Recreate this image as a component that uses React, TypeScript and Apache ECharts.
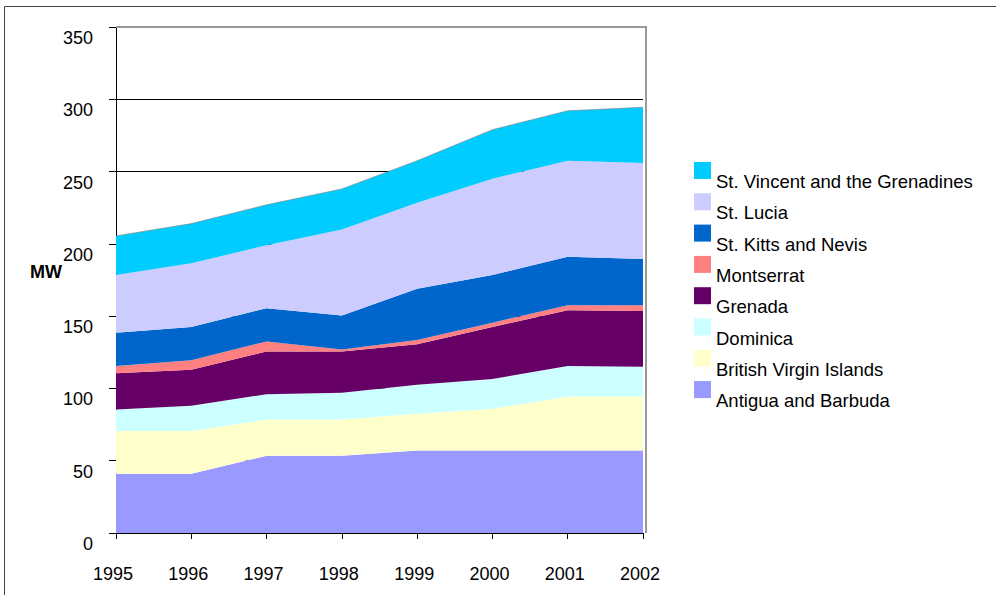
import React, { useEffect, useRef } from "react";
import * as echarts from "echarts";

const years = ["1995", "1996", "1997", "1998", "1999", "2000", "2001", "2002"];
const yTicks = [0, 50, 100, 150, 200, 250, 300, 350];

const antigua = [41, 41, 53.5, 53.5, 57, 57, 57, 57];
const bvi = [29.5, 29.5, 25, 25, 25.5, 29, 37.5, 37.5];
const dominica = [15, 17.5, 17.5, 18.5, 20, 20.5, 21, 20.5];
const grenada = [25, 25, 29.5, 28.5, 28, 36, 38.5, 38.5];
const montserrat = [5, 6.5, 7, 1.5, 3, 3, 3.5, 4];
const stKitts = [23, 23, 23, 23.5, 35.5, 33, 33.5, 32];
const stLucia = [40, 44, 43.5, 59.5, 59.5, 66.5, 66.5, 66.5];
const stVincent = [27, 27.5, 28, 28, 29, 34, 34.5, 38.5];

const seriesNames = [
  "Antigua and Barbuda",
  "British Virgin Islands",
  "Dominica",
  "Grenada",
  "Montserrat",
  "St. Kitts and Nevis",
  "St. Lucia",
  "St. Vincent and the Grenadines",
];
const seriesData = [antigua, bvi, dominica, grenada, montserrat, stKitts, stLucia, stVincent];
const seriesColors = ["#9999FF", "#FFFFCC", "#CCFFFF", "#660066", "#FF8080", "#0066CC", "#CCCCFF", "#00CCFF"];

const FONT = "'Liberation Sans', Arial, sans-serif";

export default function App() {
  const ref = useRef<HTMLDivElement>(null);
  useEffect(() => {
    document.body.style.margin = "0";
    if (!ref.current) return;
    const chart = echarts.init(ref.current, null, { renderer: "svg" });
    const series = seriesNames.map((name, i) => ({
      name,
      type: "line",
      stack: "total",
      data: seriesData[i],
      symbol: "none",
      showSymbol: false,
      color: seriesColors[i],
      lineStyle: i === seriesNames.length - 1 ? { width: 1, color: "rgba(128,128,128,0.6)" } : { width: 0 },
      areaStyle: { color: seriesColors[i], opacity: 1 },
      emphasis: { disabled: true },
    }));
    chart.setOption({
      animation: false,
      textStyle: { fontFamily: FONT },
      grid: { left: 116, right: 353, top: 27, bottom: 62 },
      xAxis: {
        type: "category",
        data: years,
        boundaryGap: false,
        axisLine: { lineStyle: { color: "#000", width: 1 } },
        axisTick: { show: true, length: 6, inside: false, lineStyle: { color: "#000" }, interval: 0 },
        axisLabel: {
          color: "#000",
          fontSize: 18,
          fontFamily: FONT,
          margin: 32,
          interval: 0,
          padding: [0, 6, 0, 0],
        },
        splitLine: { show: false },
      },
      yAxis: {
        type: "value",
        min: 0,
        max: 350,
        interval: 50,
        axisLine: { show: true, lineStyle: { color: "#000", width: 1 } },
        axisTick: { show: true, length: 7, lineStyle: { color: "#000" } },
        axisLabel: {
          color: "#000",
          fontSize: 18,
          fontFamily: FONT,
          margin: 23,
          verticalAlign: "top",
          padding: [2, 0, 0, 0],
          formatter: (v: number) => (yTicks.includes(v) ? String(v) : ""),
        },
        splitLine: { show: true, showMaxLine: false, lineStyle: { color: "#000", width: 1 } },
      },
      legend: {
        show: true,
        orient: "vertical",
        left: 689,
        top: 143.5,
        icon: "rect",
        itemWidth: 17,
        itemHeight: 17,
        itemGap: -12.7,
        data: [...seriesNames].reverse(),
        formatter: (name: string) => "\n" + name,
        textStyle: {
          color: "#000",
          fontSize: 18.5,
          fontFamily: FONT,
          lineHeight: 22,
        },
        selectedMode: false,
      },
      graphic: [
        {
          type: "rect",
          shape: { x: 4.5, y: 6.5, width: 1000, height: 600 },
          style: { fill: "none", stroke: "#444", lineWidth: 1 },
          silent: true,
        },
        {
          type: "polyline",
          shape: { points: [[116, 27], [646, 27], [646, 533]] },
          style: { fill: "none", stroke: "#999", lineWidth: 2 },
          silent: true,
          z: 10,
        },
        {
          type: "text",
          left: 30,
          top: 263,
          style: { text: "MW", fill: "#000", font: `bold 18px ${FONT}` },
          silent: true,
        },
      ],
      series,
    });
    return () => chart.dispose();
  }, []);
  return <div ref={ref} style={{ width: 996, height: 595 }} />;
}
